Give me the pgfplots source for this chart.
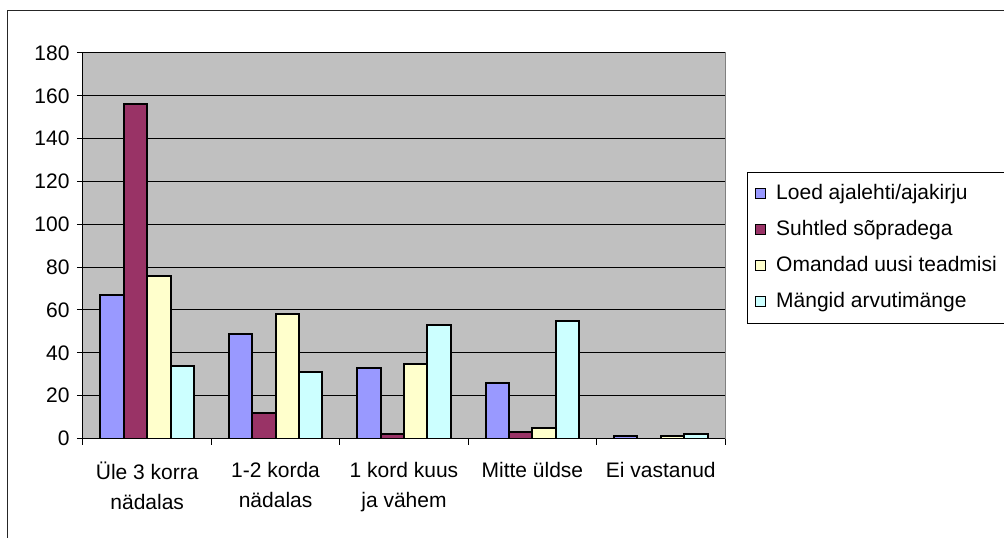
\documentclass[border=0pt]{standalone}
\usepackage{fontspec}
\setmainfont{Liberation Sans}
\usepackage{pgfplots}
\pgfplotsset{compat=1.18}
\definecolor{cLoed}{HTML}{9999FF}
\definecolor{cSuht}{HTML}{993366}
\definecolor{cOman}{HTML}{FFFFCC}
\definecolor{cMang}{HTML}{CCFFFF}
\definecolor{plotgray}{HTML}{C0C0C0}
\newcommand\fsz{\fontsize{21}{30}\selectfont}
\begin{document}
\begin{tikzpicture}[x=1pt,y=1pt]
\path[use as bounding box] (-83,-99.5) rectangle (921,438.5);
\draw[line width=1pt, black!85] (-75.5,-120) -- (-75.5,427.5) -- (940,427.5);
\begin{axis}[
  at={(0,0)}, anchor=south west,
  scale only axis, width=642pt, height=385.5pt,
  ybar=0pt, bar width=23.35pt,
  xmin=-0.5, xmax=4.5, ymin=0, ymax=180,
  ytick={0,20,...,180},
  xtick={0,1,2,3,4},
  xticklabels={{Üle 3 korra\\nädalas},{1-2 korda\\nädalas},{1 kord kuus\\ja vähem},{Mitte üldse},{Ei vastanud}},
  x tick label style={align=center, font=\fsz, anchor=north, yshift=-14pt},
  y tick label style={font=\fsz, xshift=-4pt},
  /pgf/number format/assume math mode=true,
  major x tick style={draw=none},
  minor xtick={-0.5,0.5,1.5,2.5,3.5,4.5},
  tick align=outside,
  major tick length=6pt, minor tick length=6pt,
  axis x line*=bottom, axis y line*=left,
  axis line style={-, line width=1pt, black},
  axis background/.style={fill=plotgray, draw=gray, line width=1pt},
  ymajorgrids, y grid style={black, line width=1pt},
  tick style={black, line width=1pt},
  legend style={at={(1.0343,0.6913)}, anchor=north west, draw=black, line width=1pt,
    fill=white, font=\fsz, inner xsep=7pt, inner ysep=10pt, row sep=13.5pt, column sep=9pt,
    nodes={inner sep=1.5pt, text height=15pt, text depth=4.5pt}},
  legend cell align=left,
  legend image code/.code={\draw[#1, draw=black, line width=1.2pt] (0pt,-5pt) rectangle (10pt,5pt);},
]
\addplot[fill=cLoed, draw=black, line width=2pt] coordinates {(0,67) (1,49) (2,33) (3,26) (4,1)};
\addplot[fill=cSuht, draw=black, line width=2pt] coordinates {(0,156) (1,12) (2,2) (3,3) (4,0)};
\addplot[fill=cOman, draw=black, line width=2pt] coordinates {(0,76) (1,58) (2,35) (3,5) (4,1)};
\addplot[fill=cMang, draw=black, line width=2pt] coordinates {(0,34) (1,31) (2,53) (3,55) (4,2)};
\legend{Loed ajalehti/ajakirju, Suhtled sõpradega, Omandad uusi teadmisi, Mängid arvutimänge}
\end{axis}
\end{tikzpicture}
\end{document}
